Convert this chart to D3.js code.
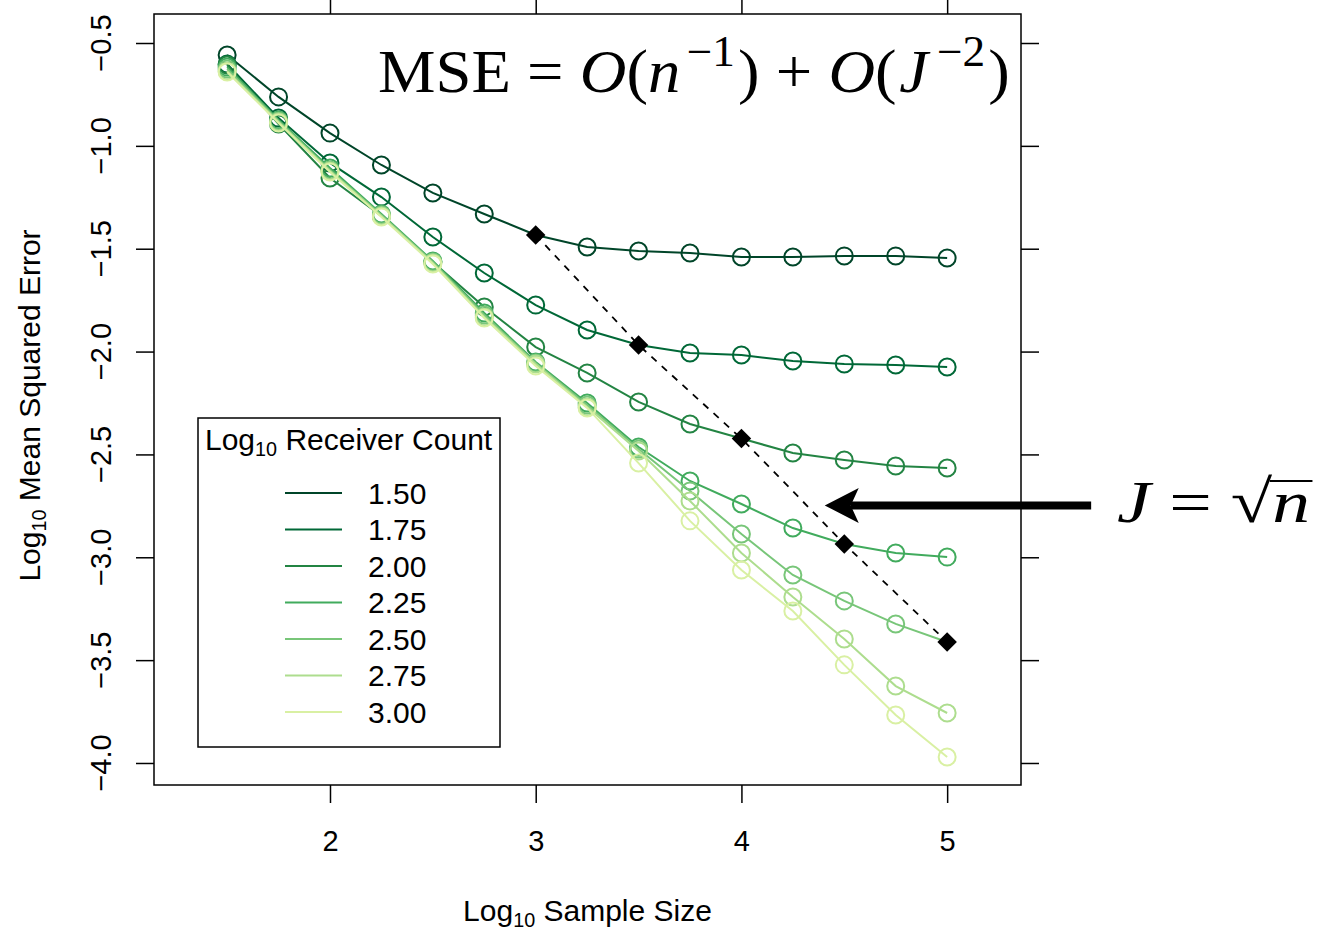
<!DOCTYPE html>
<html>
<head>
<meta charset="utf-8">
<script src="https://cdn.jsdelivr.net/npm/d3@7"></script>
<style>
  html, body { margin: 0; padding: 0; background: #ffffff; }
  svg { display: block; }
</style>
</head>
<body>
<svg id="chart" width="1321" height="930"></svg>
<script>
// ---- data -------------------------------------------------------------
const logSampleSize = [1.5, 1.75, 2.0, 2.25, 2.5, 2.75, 3.0, 3.25, 3.5, 3.75, 4.0, 4.25, 4.5, 4.75, 5.0];

const receiverLevels = [1.50, 1.75, 2.00, 2.25, 2.50, 2.75, 3.00];
const receiverLabels = ["1.50", "1.75", "2.00", "2.25", "2.50", "2.75", "3.00"];

// log10 mean squared error for each receiver count
const mseJ150 = [-0.558, -0.762, -0.938, -1.093, -1.229, -1.331, -1.433, -1.492, -1.511, -1.521, -1.540, -1.540, -1.535, -1.535, -1.545];
const mseJ175 = [-0.602, -0.865, -1.083, -1.249, -1.443, -1.618, -1.774, -1.895, -1.968, -2.007, -2.017, -2.046, -2.060, -2.065, -2.075];
const mseJ200 = [-0.607, -0.894, -1.156, -1.341, -1.565, -1.783, -1.978, -2.104, -2.245, -2.352, -2.423, -2.493, -2.527, -2.556, -2.566];
const mseJ225 = [-0.617, -0.874, -1.108, -1.331, -1.560, -1.812, -2.051, -2.250, -2.464, -2.629, -2.741, -2.858, -2.935, -2.979, -2.999];
const mseJ250 = [-0.626, -0.879, -1.117, -1.336, -1.565, -1.822, -2.056, -2.260, -2.474, -2.678, -2.887, -3.086, -3.212, -3.324, -3.412];
const mseJ275 = [-0.636, -0.884, -1.122, -1.341, -1.569, -1.832, -2.060, -2.269, -2.483, -2.726, -2.979, -3.193, -3.397, -3.626, -3.757];
const mseJ300 = [-0.641, -0.889, -1.127, -1.346, -1.574, -1.837, -2.070, -2.274, -2.542, -2.823, -3.062, -3.261, -3.523, -3.767, -3.971];

const seriesColors = ["#004529", "#006837", "#238443", "#41ab5d", "#78c679", "#addd8e", "#d9f0a3"];

const xTicks = [2, 3, 4, 5];
const yTicks = [-0.5, -1.0, -1.5, -2.0, -2.5, -3.0, -3.5, -4.0];
const yTickLabels = ["\u22120.5", "\u22121.0", "\u22121.5", "\u22122.0", "\u22122.5", "\u22123.0", "\u22123.5", "\u22124.0"];

// annotation arrow (data units), pointing at the J = sqrt(n) line
const arrowFrom = [5.70, -2.748];
const arrowTo = [4.405, -2.748];

// ---- layout -----------------------------------------------------------
const frame = { left: 154, right: 1021, top: 14, bottom: 785 };
const tickLen = 18;
const sans = "'Liberation Sans', Arial, Helvetica, sans-serif";
const serif = "'Liberation Serif', 'Times New Roman', serif";

const svg = d3.select("#chart");

const x = d3.scaleLinear().domain([1.1445, 5.359]).range([frame.left, frame.right]);
const y = d3.scaleLinear().domain([-4.107, -0.359]).range([frame.bottom, frame.top]);

const seriesValues = [mseJ150, mseJ175, mseJ200, mseJ225, mseJ250, mseJ275, mseJ300];
const series = receiverLevels.map((lev, i) => ({
  level: lev,
  label: receiverLabels[i],
  color: seriesColors[i],
  points: logSampleSize.map((n, k) => ({ n: n, v: seriesValues[i][k], balanced: Math.abs(n - 2 * lev) < 1e-9 }))
}));

// ---- axes ---------------------------------------------------------------
function styleAxis(g) {
  g.select(".domain").remove();
  g.selectAll(".tick line").attr("stroke", "#000").attr("stroke-width", 1.5);
}

svg.append("g")
  .attr("transform", `translate(0,${frame.bottom})`)
  .call(d3.axisBottom(x).tickValues(xTicks).tickSize(tickLen).tickPadding(27).tickFormat(d3.format("d")))
  .call(styleAxis)
  .call(g => g.selectAll("text").attr("font-family", sans).attr("font-size", 29).attr("fill", "#000"));

svg.append("g")
  .attr("transform", `translate(0,${frame.top})`)
  .call(d3.axisTop(x).tickValues(xTicks).tickSize(tickLen).tickFormat(""))
  .call(styleAxis);

svg.append("g")
  .attr("transform", `translate(${frame.left},0)`)
  .call(d3.axisLeft(y).tickValues(yTicks).tickSize(tickLen).tickFormat(""))
  .call(styleAxis);

svg.append("g")
  .attr("transform", `translate(${frame.right},0)`)
  .call(d3.axisRight(y).tickValues(yTicks).tickSize(tickLen).tickFormat(""))
  .call(styleAxis);

// rotated y tick labels, parallel to the axis
svg.append("g").selectAll("text")
  .data(yTicks)
  .join("text")
  .attr("transform", d => `translate(111,${y(d)}) rotate(-90)`)
  .attr("text-anchor", "middle")
  .attr("font-family", sans)
  .attr("font-size", 29)
  .text((d, i) => yTickLabels[i]);

// plot frame
svg.append("rect")
  .attr("x", frame.left).attr("y", frame.top)
  .attr("width", frame.right - frame.left)
  .attr("height", frame.bottom - frame.top)
  .attr("fill", "none").attr("stroke", "#000").attr("stroke-width", 1.5);

// axis titles with subscripted "10"
function logTitle(sel, rest) {
  sel.append("tspan").text("Log");
  sel.append("tspan").attr("font-size", "0.66em").attr("dy", 6).text("10");
  sel.append("tspan").attr("dy", -6).text(rest);
}

svg.append("text")
  .attr("x", (frame.left + frame.right) / 2).attr("y", 921)
  .attr("text-anchor", "middle")
  .attr("font-family", sans).attr("font-size", 30)
  .call(logTitle, " Sample Size");

svg.append("text")
  .attr("transform", `translate(40,${(frame.top + frame.bottom) / 2 + 6}) rotate(-90)`)
  .attr("text-anchor", "middle")
  .attr("font-family", sans).attr("font-size", 30)
  .call(logTitle, " Mean Squared Error");

// ---- series -------------------------------------------------------------
const line = d3.line().x(d => x(d.n)).y(d => y(d.v));

const sg = svg.append("g").selectAll("g")
  .data(series)
  .join("g");

sg.append("path")
  .attr("d", d => line(d.points))
  .attr("fill", "none")
  .attr("stroke", d => d.color)
  .attr("stroke-width", 2);

sg.selectAll("circle")
  .data(d => d.points.filter(p => !p.balanced).map(p => ({ ...p, color: d.color })))
  .join("circle")
  .attr("cx", d => x(d.n))
  .attr("cy", d => y(d.v))
  .attr("r", 8.5)
  .attr("fill", "none")
  .attr("stroke", d => d.color)
  .attr("stroke-width", 2);

// ---- J = sqrt(n) points: log J = 0.5 log n ----------------------------
const balanced = series
  .map(s => s.points.find(p => p.balanced))
  .filter(Boolean);

svg.append("path")
  .attr("d", line(balanced))
  .attr("fill", "none")
  .attr("stroke", "#000")
  .attr("stroke-width", 1.8)
  .attr("stroke-dasharray", "7,7");

svg.append("g").selectAll("path")
  .data(balanced)
  .join("path")
  .attr("d", d3.symbol(d3.symbolSquare, 190))
  .attr("transform", d => `translate(${x(d.n)},${y(d.v)}) rotate(45)`)
  .attr("fill", "#000");

// ---- arrow ----------------------------------------------------------------
{
  const tipX = x(arrowTo[0]), tipY = y(arrowTo[1]);
  const tailX = x(arrowFrom[0]);
  const headLen = 34, headHalf = 17.5, notch = 8;
  svg.append("line")
    .attr("x1", tailX).attr("y1", tipY)
    .attr("x2", tipX + headLen - notch).attr("y2", tipY)
    .attr("stroke", "#000").attr("stroke-width", 8);
  svg.append("path")
    .attr("d", `M${tipX},${tipY} L${tipX + headLen},${tipY - headHalf} L${tipX + headLen - notch},${tipY} L${tipX + headLen},${tipY + headHalf} Z`)
    .attr("fill", "#000");
}

// ---- legend -----------------------------------------------------------------
const legend = svg.append("g");
legend.append("rect")
  .attr("x", 198).attr("y", 418).attr("width", 302).attr("height", 329)
  .attr("fill", "#fff").attr("stroke", "#000").attr("stroke-width", 1.5);
legend.append("text")
  .attr("x", 205).attr("y", 450)
  .attr("font-family", sans).attr("font-size", 30)
  .call(logTitle, " Receiver Count");

const entries = legend.selectAll("g.entry")
  .data(series)
  .join("g")
  .attr("class", "entry")
  .attr("transform", (d, i) => `translate(0,${493 + i * 36.5})`);
entries.append("line")
  .attr("x1", 285).attr("x2", 342)
  .attr("stroke", d => d.color).attr("stroke-width", 2);
entries.append("text")
  .attr("x", 368).attr("y", 10.5)
  .attr("font-family", sans).attr("font-size", 30)
  .text(d => d.label);

// ---- formulas ---------------------------------------------------------------
function mathText(parent, parts, size, left, baseline, width) {
  const g = parent.append("g");
  const t = g.append("text")
    .attr("x", 0).attr("y", 0)
    .attr("font-family", serif).attr("font-size", size);
  let raised = false;
  parts.forEach(p => {
    const ts = t.append("tspan").text(p.t);
    if (p.i) ts.attr("font-style", "italic");
    if (p.dx) ts.attr("dx", p.dx * size);
    if (p.sup) {
      ts.attr("font-size", size * 0.7).attr("dy", -size * 0.42);
      raised = true;
    } else if (raised) {
      ts.attr("dy", size * 0.42);
      raised = false;
    }
  });
  const box = t.node().getBBox();
  const k = width / box.width;
  g.attr("transform", `translate(${left - box.x * k},${baseline}) scale(${k},1)`);
  return { g, t };
}

mathText(svg, [
  { t: "MSE" }, { t: " = " }, { t: "O", i: 1 }, { t: "(" }, { t: "n", i: 1 },
  { t: "\u22121", sup: 1, dx: 0.1 }, { t: ")", dx: 0.05 }, { t: " + " }, { t: "O", i: 1 }, { t: "(" },
  { t: "J", i: 1, dx: 0.04 }, { t: "\u22122", sup: 1, dx: 0.14 }, { t: ")", dx: 0.05 }
], 62, 378, 92, 632);

{
  const m = mathText(svg, [
    { t: "J", i: 1 }, { t: " = " }, { t: "\u221A" }, { t: "n", i: 1 }
  ], 60, 1117, 522, 193);
  const node = m.t.node();
  const nIdx = node.getNumberOfChars() - 1;
  const sx = node.getStartPositionOfChar(nIdx).x;
  const ex = node.getEndPositionOfChar(nIdx).x;
  m.g.append("line")
    .attr("x1", sx - 2).attr("x2", ex + 2)
    .attr("y1", -41).attr("y2", -41)
    .attr("stroke", "#000").attr("stroke-width", 2);
}
</script>
</body>
</html>
